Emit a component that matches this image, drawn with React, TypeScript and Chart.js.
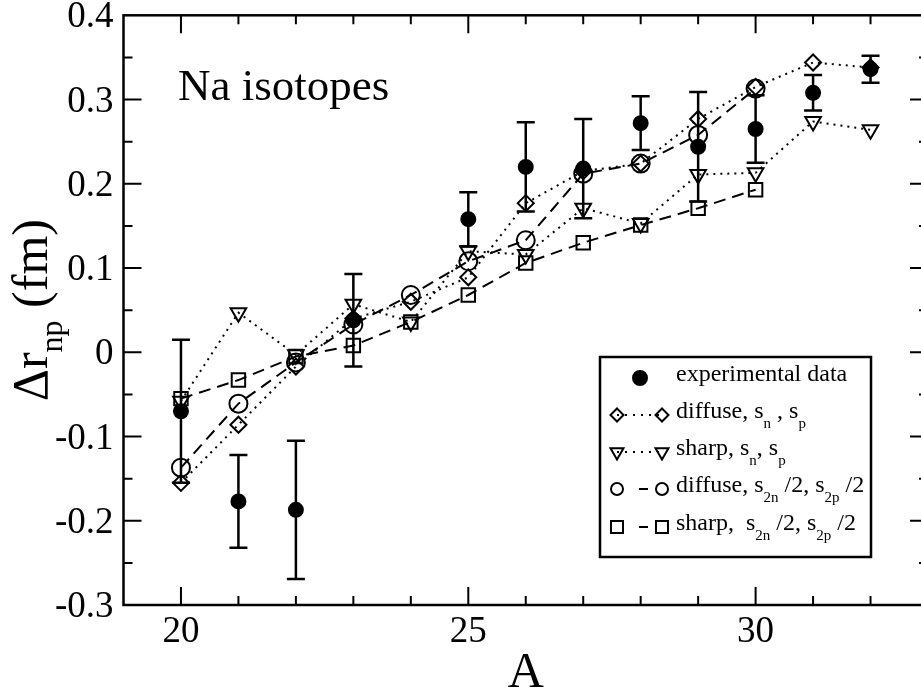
import React, { useEffect, useRef } from 'react';
import { Chart, registerables } from 'chart.js';

Chart.register(...registerables);

// ---- data ----
const expA = [20, 21, 22, 23, 25, 26, 27, 28, 29, 30, 31, 32];
const expValue = [-0.070, -0.177, -0.187, 0.038, 0.158, 0.220, 0.218, 0.272, 0.244, 0.265, 0.308, 0.336];
const expError = [0.085, 0.055, 0.082, 0.055, 0.032, 0.053, 0.059, 0.032, 0.065, 0.040, 0.021, 0.016];

const snA = [20, 21, 22, 23, 24, 25, 26, 27, 28, 29, 30, 31, 32];
const diffuseSn = [-0.155, -0.086, -0.017, 0.040, 0.060, 0.089, 0.177, 0.215, 0.224, 0.277, 0.315, 0.344, 0.338];
const sharpSn = [-0.058, 0.047, -0.003, 0.057, 0.036, 0.120, 0.116, 0.171, 0.153, 0.211, 0.213, 0.274, 0.264];

const s2nA = [20, 21, 22, 23, 24, 25, 26, 27, 28, 29, 30];
const diffuseS2n = [-0.137, -0.061, -0.012, 0.033, 0.068, 0.108, 0.133, 0.212, 0.224, 0.258, 0.313];
const sharpS2n = [-0.055, -0.033, -0.005, 0.008, 0.036, 0.068, 0.106, 0.130, 0.151, 0.171, 0.193];

const xMajorTicks = [20, 25, 30];
const xTickLabels = ['20', '25', '30'];
const yMajorTicks = [0.4, 0.3, 0.2, 0.1, 0, -0.1, -0.2, -0.3];
const yTickLabels = ['0.4', '0.3', '0.2', '0.1', '0', '-0.1', '-0.2', '-0.3'];

const SERIF = '"Liberation Serif", "DejaVu Serif", serif';
const DOTTED = [2, 5];
const DASHED = [12, 7];

const pts = (xs: number[], ys: number[]) => xs.map((x, i) => ({ x, y: ys[i] }));

function drawMarker(ctx: CanvasRenderingContext2D, kind: string, x: number, y: number, r: number) {
  ctx.beginPath();
  if (kind === 'diamond') {
    ctx.moveTo(x, y - r); ctx.lineTo(x + r, y); ctx.lineTo(x, y + r); ctx.lineTo(x - r, y); ctx.closePath();
  } else if (kind === 'triangle') {
    const h = r * Math.sin(Math.PI / 3);
    ctx.moveTo(x - h, y - r / 2); ctx.lineTo(x + h, y - r / 2); ctx.lineTo(x, y + r); ctx.closePath();
  } else if (kind === 'circle' || kind === 'filled') {
    ctx.arc(x, y, r, 0, Math.PI * 2);
  } else if (kind === 'square') {
    ctx.rect(x - r, y - r, 2 * r, 2 * r);
  }
  if (kind === 'filled') { ctx.fillStyle = '#000'; ctx.fill(); }
  ctx.stroke();
}

const errorBarPlugin = {
  id: 'errorBars',
  beforeDatasetsDraw(chart: any) {
    const { ctx } = chart;
    const xs = chart.scales.x; const ys = chart.scales.y;
    ctx.save();
    ctx.strokeStyle = '#000';
    ctx.lineWidth = 2.5;
    expA.forEach((a, i) => {
      const px = xs.getPixelForValue(a);
      const top = ys.getPixelForValue(expValue[i] + expError[i]);
      const bot = ys.getPixelForValue(expValue[i] - expError[i]);
      ctx.beginPath();
      ctx.moveTo(px, top); ctx.lineTo(px, bot);
      ctx.moveTo(px - 9, top); ctx.lineTo(px + 9, top);
      ctx.moveTo(px - 9, bot); ctx.lineTo(px + 9, bot);
      ctx.stroke();
    });
    ctx.restore();
  },
};

const framePlugin = {
  id: 'frame',
  afterDraw(chart: any) {
    const { ctx, chartArea: ca } = chart;
    const xs = chart.scales.x; const ys = chart.scales.y;
    ctx.save();
    ctx.strokeStyle = '#000';
    ctx.lineWidth = 2.5;
    ctx.strokeRect(ca.left, ca.top, ca.right - ca.left, ca.bottom - ca.top);
    ctx.lineWidth = 2;
    ctx.beginPath();
    for (let a = 20; a <= 33; a++) {
      const px = xs.getPixelForValue(a);
      const len = a % 5 === 0 ? 18 : 9;
      ctx.moveTo(px, ca.bottom); ctx.lineTo(px, ca.bottom - len);
      ctx.moveTo(px, ca.top); ctx.lineTo(px, ca.top + len);
    }
    for (let k = -5; k <= 7; k++) {
      const v = k * 0.05;
      const py = ys.getPixelForValue(v);
      const len = k % 2 === 0 ? 18 : 9;
      ctx.moveTo(ca.left, py); ctx.lineTo(ca.left + len, py);
      ctx.moveTo(ca.right, py); ctx.lineTo(ca.right - len, py);
    }
    ctx.stroke();

    // tick labels
    ctx.fillStyle = '#000';
    ctx.font = `37px ${SERIF}`;
    ctx.textAlign = 'right';
    ctx.textBaseline = 'alphabetic';
    yMajorTicks.forEach((v, i) => {
      ctx.fillText(yTickLabels[i], ca.left - 10, ys.getPixelForValue(v) + 12);
    });
    ctx.textAlign = 'center';
    xMajorTicks.forEach((a, i) => {
      ctx.fillText(xTickLabels[i], xs.getPixelForValue(a), ca.bottom + 37);
    });

    // axis titles
    ctx.font = `50px ${SERIF}`;
    ctx.fillText('A', (ca.left + ca.right) / 2, 687);

    ctx.save();
    ctx.translate(47, (ca.top + ca.bottom) / 2);
    ctx.rotate(-Math.PI / 2);
    ctx.textAlign = 'left';
    const mainFont = `50px ${SERIF}`;
    const subFont = `32px ${SERIF}`;
    ctx.font = mainFont; const w1 = ctx.measureText('Δr').width;
    ctx.font = subFont; const w2 = ctx.measureText('np').width;
    ctx.font = mainFont; const w3 = ctx.measureText(' (fm)').width;
    let cx = -(w1 + w2 + w3) / 2;
    ctx.font = mainFont; ctx.fillText('Δr', cx, 0); cx += w1;
    ctx.font = subFont; ctx.fillText('np', cx, 15); cx += w2;
    ctx.font = mainFont; ctx.fillText(' (fm)', cx, 0);
    ctx.restore();

    // annotation
    ctx.textAlign = 'left';
    ctx.font = `45px ${SERIF}`;
    ctx.fillText('Na isotopes', 178, 100);

    // legend
    const lx = 600, ly = 357, lw = 271, lh = 200;
    ctx.fillStyle = '#fff';
    ctx.fillRect(lx, ly, lw, lh);
    ctx.lineWidth = 2.5;
    ctx.strokeRect(lx, ly, lw, lh);
    ctx.fillStyle = '#000';
    const rows: { kind: string; dash: number[] | null; r: number; parts: [string, boolean][] }[] = [
      { kind: 'filled', dash: null, r: 7, parts: [['experimental data', false]] },
      { kind: 'diamond', dash: [2, 6], r: 6.5, parts: [['diffuse, s', false], ['n', true], [' , s', false], ['p', true]] },
      { kind: 'triangle', dash: [2, 6], r: 7.5, parts: [['sharp, s', false], ['n', true], [', s', false], ['p', true]] },
      { kind: 'circle', dash: [0, 22, 9, 40], r: 6, parts: [['diffuse, s', false], ['2n', true], [' /2, s', false], ['2p', true], [' /2', false]] },
      { kind: 'square', dash: [0, 22, 9, 40], r: 6, parts: [['sharp,  s', false], ['2n', true], [' /2, s', false], ['2p', true], [' /2', false]] },
    ];
    const baselines = [381, 418, 455, 492, 530];
    rows.forEach((row, i) => {
      const b = baselines[i];
      const y = i === 0 ? b - 3 : b - 3;
      ctx.lineWidth = 2;
      ctx.strokeStyle = '#000';
      if (row.kind === 'filled') {
        drawMarker(ctx, 'filled', 640, y, row.r);
      } else {
        ctx.save();
        ctx.setLineDash(row.dash || []);
        ctx.beginPath(); ctx.moveTo(617, y); ctx.lineTo(662, y); ctx.stroke();
        ctx.restore();
        drawMarker(ctx, row.kind, 617, y, row.r);
        drawMarker(ctx, row.kind, 662, y, row.r);
      }
      let tx = 676;
      row.parts.forEach(([t, sub]) => {
        ctx.font = sub ? `15px ${SERIF}` : `24px ${SERIF}`;
        ctx.fillStyle = '#000';
        ctx.fillText(t, tx, b + (sub ? 9.5 : 0));
        tx += ctx.measureText(t).width;
      });
    });
    ctx.restore();
  },
};

export default function App() {
  const ref = useRef<HTMLCanvasElement | null>(null);
  useEffect(() => {
    document.body.style.margin = '0';
    const canvas = ref.current;
    if (!canvas) return;
    const common = { borderColor: '#000', pointBorderColor: '#000', pointBackgroundColor: 'rgba(0,0,0,0)', borderWidth: 2, pointBorderWidth: 2, showLine: true, fill: false, tension: 0 };
    const chart = new Chart(canvas, {
      type: 'scatter',
      data: {
        datasets: [
          { ...common, label: 'experimental data', data: pts(expA, expValue), showLine: false, pointStyle: 'circle', pointRadius: 7, pointBackgroundColor: '#000' },
          { ...common, label: 'diffuse, sn, sp', data: pts(snA, diffuseSn), borderDash: DOTTED, pointStyle: 'rectRot', pointRadius: 8 },
          { ...common, label: 'sharp, sn, sp', data: pts(snA, sharpSn), borderDash: DOTTED, pointStyle: 'triangle', pointRotation: 180, pointRadius: 9 },
          { ...common, label: 'diffuse, s2n/2, s2p/2', data: pts(s2nA, diffuseS2n), borderDash: DASHED, pointStyle: 'circle', pointRadius: 9 },
          { ...common, label: 'sharp, s2n/2, s2p/2', data: pts(s2nA, sharpS2n), borderDash: DASHED, pointStyle: 'rect', pointRadius: 9.5 },
        ] as any,
      },
      options: {
        responsive: false,
        animation: false,
        layout: { padding: { left: 123.5, top: 15.3, right: 12, bottom: 89 } },
        plugins: { legend: { display: false }, tooltip: { enabled: false } },
        scales: {
          x: { type: 'linear', min: 19, max: 33, display: false },
          y: { type: 'linear', min: -0.3, max: 0.4, display: false },
        },
      },
      plugins: [errorBarPlugin, framePlugin],
    });
    return () => chart.destroy();
  }, []);
  return (
    <div style={{ position: 'fixed', left: 0, top: 0, width: 921, height: 694, overflow: 'hidden', background: '#fff' }}>
      <canvas ref={ref} width={940} height={694} style={{ width: 940, height: 694, display: 'block' }} />
    </div>
  );
}
